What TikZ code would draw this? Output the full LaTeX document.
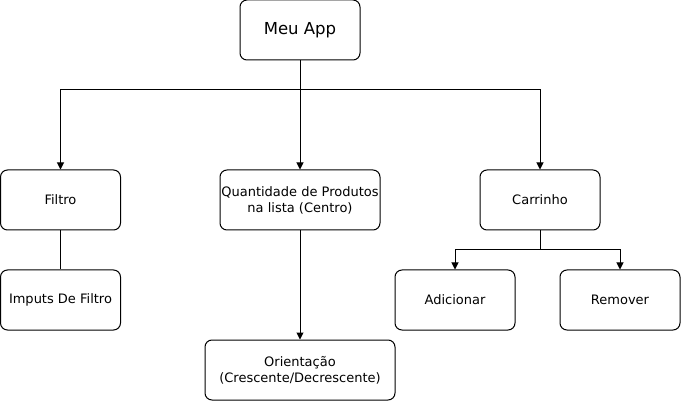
\documentclass[tikz,border=0pt]{standalone}
\usepackage{fontspec}
\setmainfont{DejaVu Sans}
\usetikzlibrary{arrows.meta}
\tikzset{
  box/.style={draw, rounded corners=7pt, line width=1pt, align=center,
    font=\fontsize{13}{16}\selectfont, inner sep=0pt},
  arr/.style={-{Triangle[width=7pt,length=7pt]}, line width=1pt},
  line/.style={-, line width=1pt}
}
\begin{document}
\begin{tikzpicture}[x=1pt, y=-1pt]
  \useasboundingbox (0,0) rectangle (681,401);
  \node[box, minimum width=120pt, minimum height=60pt, font=\fontsize{16.5}{19}\selectfont] (app) at (300,30) {Meu App};
  \node[box, minimum width=120pt, minimum height=60pt] (filtro) at (60.5,200) {Filtro};
  \node[box, minimum width=160pt, minimum height=60pt] (qtd) at (300,200) {Quantidade de Produtos\\na lista (Centro)};
  \node[box, minimum width=120pt, minimum height=60pt] (carrinho) at (540,200) {Carrinho};
  \node[box, minimum width=120pt, minimum height=60pt] (inputs) at (60.5,300) {Imputs De Filtro};
  \node[box, minimum width=190pt, minimum height=60pt] (orient) at (300,370) {Orientação\\(Crescente/Decrescente)};
  \node[box, minimum width=120pt, minimum height=60pt] (add) at (455,300) {Adicionar};
  \node[box, minimum width=120pt, minimum height=60pt] (rem) at (620,300) {Remover};
  % junctions
  \coordinate (split) at (300,90);
  \coordinate (csplit) at (540,250);
  \draw[line] (app) -- (split);
  \draw[arr] (split) -| (filtro);
  \draw[arr] (split) -- (qtd);
  \draw[arr] (split) -| (carrinho);
  \draw[line] (filtro) -- (inputs);
  \draw[arr] (qtd) -- (orient);
  \draw[line] (carrinho) -- (csplit);
  \draw[arr] (csplit) -| (add);
  \draw[arr] (csplit) -| (rem);
\end{tikzpicture}
\end{document}
